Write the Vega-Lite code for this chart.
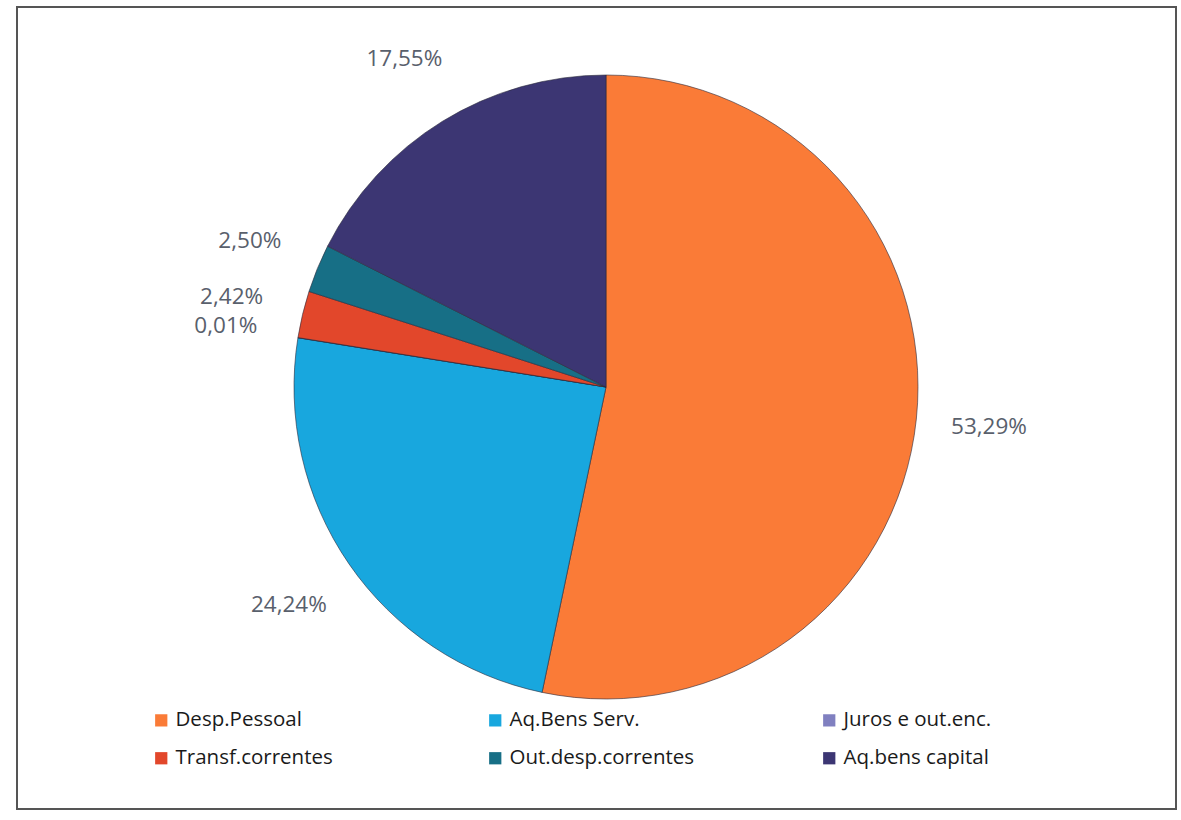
{
  "$schema": "https://vega.github.io/schema/vega-lite/v6.json",
  "width": 1181,
  "height": 820,
  "autosize": {"type": "fit", "contains": "padding"},
  "padding": {"left": 16, "top": 6, "right": 4, "bottom": 10},
  "background": "white",
  "config": {
    "view": {"stroke": null},
    "font": "Open Sans"
  },
  "datasets": {
    "slices": [
      {"i": 1, "cat": "Desp.Pessoal", "pct": 53.29, "label": "53,29%"},
      {"i": 2, "cat": "Aq.Bens Serv.", "pct": 24.24, "label": "24,24%"},
      {"i": 3, "cat": "Juros e out.enc.", "pct": 0.01, "label": "0,01%"},
      {"i": 4, "cat": "Transf.correntes", "pct": 2.42, "label": "2,42%"},
      {"i": 5, "cat": "Out.desp.correntes", "pct": 2.50, "label": "2,50%"},
      {"i": 6, "cat": "Aq.bens capital", "pct": 17.55, "label": "17,55%"}
    ],
    "frame": [{"f": 1}]
  },
  "layer": [
    {
      "data": {"name": "frame"},
      "mark": {"type": "rect", "filled": false, "stroke": "#555555", "strokeWidth": 2},
      "encoding": {}
    },
    {
      "data": {"name": "slices"},
      "mark": {"type": "arc", "radius": 312, "x": {"expr": "width/2 + 9.5"}, "y": {"expr": "height/2 - 21"}, "stroke": "#2a2a3a", "strokeWidth": 0.6},
      "encoding": {
        "theta": {"field": "pct", "type": "quantitative", "stack": true},
        "order": {"field": "i", "type": "quantitative"},
        "color": {
          "field": "cat",
          "type": "nominal",
          "scale": {
            "domain": ["Desp.Pessoal", "Aq.Bens Serv.", "Juros e out.enc.", "Transf.correntes", "Out.desp.correntes", "Aq.bens capital"],
            "range": ["#FA7B37", "#18A7DE", "#8080C0", "#E2472B", "#176F86", "#3C3673"]
          },
          "legend": {
            "title": null,
            "orient": "none",
            "legendX": 134,
            "legendY": 703,
            "direction": "horizontal",
            "columns": 3,
            "gridAlign": "all",
            "columnPadding": 124,
            "rowPadding": 17,
            "padding": 0,
            "symbolType": "square",
            "symbolSize": 150,
            "symbolStrokeWidth": 0,
            "symbolOffset": 0,
            "labelOffset": 4,
            "labelFont": "Open Sans",
            "labelFontSize": 20.5,
            "labelColor": "#1a1a1a",
            "labelLimit": 400
          }
        }
      }
    },
    {
      "data": {"name": "slices"},
      "mark": {"type": "text", "radius": 385, "x": {"expr": "width/2 + 9.5"}, "y": {"expr": "height/2 - 21"}, "font": "Open Sans", "fontSize": 22.5, "fill": "#59606c"},
      "encoding": {
        "theta": {"field": "pct", "type": "quantitative", "stack": true},
        "order": {"field": "i", "type": "quantitative"},
        "text": {"field": "label", "type": "nominal"}
      }
    }
  ]
}
